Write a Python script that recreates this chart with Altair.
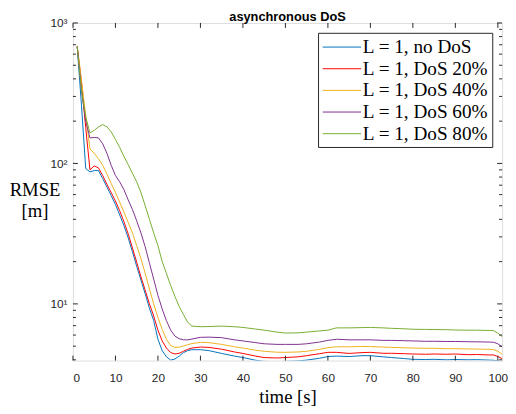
import altair as alt
import pandas as pd

# ---- data ----
time_s = [1, 2, 3, 4, 5, 6, 7, 8, 9, 10, 11, 12, 13, 14, 15, 16, 17, 18, 19, 20,
          21, 22, 23, 24, 25, 26, 27, 28, 30, 32, 35, 38, 40, 43, 45, 48, 50, 53,
          55, 58, 60, 62, 65, 68, 70, 73, 75, 78, 80, 83, 85, 88, 90, 93, 95, 98,
          99, 100, 101]

no_dos = [680, 260, 92, 87, 89, 89, 78, 68, 59, 51, 43, 36, 29.5, 23.5, 18.5, 14.8,
          11.8, 9.3, 7.6, 5.6, 4.65, 4.2, 3.98, 4.05, 4.25, 4.5, 4.65, 4.72, 4.72,
          4.65, 4.44, 4.25, 4.15, 3.97, 3.9, 3.88, 3.9, 3.93, 3.98, 4.1, 4.22, 4.25,
          4.22, 4.28, 4.28, 4.2, 4.15, 4.08, 4.03, 4.02, 4.03, 4.0, 4.02, 4.0, 4.01,
          3.98, 3.97, 3.92, 3.85]

dos20 = [680, 380, 180, 90, 96, 93, 82, 71, 62, 54, 46, 38.5, 31.5, 25, 19.8, 15.6,
         12.5, 10, 8.2, 6.5, 5.45, 4.85, 4.5, 4.4, 4.45, 4.6, 4.75, 4.85, 4.93, 4.9,
         4.76, 4.55, 4.44, 4.25, 4.15, 4.12, 4.15, 4.2, 4.28, 4.42, 4.52, 4.52, 4.44,
         4.5, 4.52, 4.45, 4.45, 4.42, 4.4, 4.38, 4.4, 4.38, 4.4, 4.35, 4.36, 4.33,
         4.33, 4.22, 4.08]

dos40 = [680, 390, 220, 127, 118, 108, 97, 84, 72, 62, 53, 45, 38, 32, 26, 21, 16.5,
         12.8, 10, 8, 6.6, 5.6, 5.05, 4.9, 4.92, 5.02, 5.12, 5.22, 5.32, 5.3, 5.15,
         4.95, 4.85, 4.68, 4.6, 4.53, 4.52, 4.55, 4.6, 4.75, 4.88, 4.95, 4.95, 4.98,
         4.97, 4.93, 4.9, 4.87, 4.85, 4.83, 4.83, 4.8, 4.8, 4.78, 4.77, 4.75, 4.73,
         4.6, 4.38]

dos60 = [680, 330, 200, 152, 153, 152, 138, 118, 97, 82, 74, 65, 55, 47, 39, 32, 25.5,
         19.5, 15, 11.5, 9.2, 7.6, 6.5, 5.9, 5.65, 5.55, 5.55, 5.62, 5.78, 5.8, 5.75,
         5.55, 5.45, 5.3, 5.2, 5.15, 5.15, 5.15, 5.2, 5.35, 5.5, 5.6, 5.55, 5.55, 5.55,
         5.5, 5.5, 5.47, 5.45, 5.42, 5.42, 5.4, 5.4, 5.38, 5.37, 5.35, 5.33, 5.2, 4.95]

dos80 = [680, 330, 215, 165, 172, 182, 189, 182, 168, 148, 130, 112, 98, 85, 74, 62,
         50, 40, 32, 26, 20, 16.5, 13.5, 11.3, 9.6, 8.4, 7.4, 6.95, 6.88, 6.9, 6.95,
         6.88, 6.8, 6.62, 6.5, 6.3, 6.2, 6.22, 6.3, 6.42, 6.5, 6.75, 6.75, 6.78, 6.8,
         6.75, 6.7, 6.65, 6.6, 6.58, 6.57, 6.55, 6.52, 6.5, 6.5, 6.47, 6.45, 6.2, 5.85]

series_names = ["L = 1, no DoS", "L = 1, DoS 20%", "L = 1, DoS 40%",
                "L = 1, DoS 60%", "L = 1, DoS 80%"]
series_colors = ["#0072BD", "#FF0000", "#EDB120", "#7E2F8E", "#77AC30"]

chart_title = ["asynchronous DoS"]

x_major = [0, 10, 20, 30, 40, 50, 60, 70, 80, 90, 100]
y_major = [10, 100, 1000]
y_minor = [4, 5, 6, 7, 8, 9, 20, 30, 40, 50, 60, 70, 80, 90,
           200, 300, 400, 500, 600, 700, 800, 900]

rows = []
for name, ys in zip(series_names, [no_dos, dos20, dos40, dos60, dos80]):
    for t, v in zip(time_s, ys):
        rows.append({"time": t, "rmse": v, "series": name})
df = pd.DataFrame(rows)

W, H = 436, 343
AX = "#262626"
xscale = alt.Scale(domain=[0, 101], nice=False, zero=False)
yscale = alt.Scale(type="log", domain=[3.95, 1000], nice=False)

lines = alt.Chart(df).mark_line(strokeWidth=1, clip=True).encode(
    x=alt.X("time:Q", scale=xscale,
            axis=alt.Axis(values=x_major, title="time [s]", grid=False, ticks=False,
                          tickSize=0, domain=False, labelFont="Liberation Sans",
                          labelFontSize=12, labelColor=AX, labelPadding=12,
                          titleFont="Liberation Serif", titleFontSize=19,
                          titleFontWeight="normal", titleColor="black",
                          titleBaseline="alphabetic", titleY=43, titleX=W / 2)),
    y=alt.Y("rmse:Q", scale=yscale,
            axis=alt.Axis(values=y_major, grid=False, ticks=False, tickSize=0,
                          domain=False,
                          labelExpr="datum.value == 10 ? '10\u00b9' : datum.value == 100 ? '10\u00b2' : '10\u00b3'",
                          labelFont="Liberation Sans", labelFontSize=12,
                          labelColor=AX, labelPadding=6,
                          title=["RMSE", "[m]"], titleAngle=0, titleAlign="center",
                          titleBaseline="alphabetic", titleX=-39, titleY=175,
                          titleLineHeight=22, titleFont="Liberation Serif",
                          titleFontSize=19, titleFontWeight="normal",
                          titleColor="black")),
    color=alt.Color("series:N",
                    scale=alt.Scale(domain=series_names, range=series_colors),
                    legend=alt.Legend(title=None, orient="none", legendX=249,
                                      legendY=10, symbolType="M-1,0L3,0",
                                      symbolSize=380, symbolStrokeWidth=1,
                                      labelFont="Liberation Serif",
                                      labelFontSize=19.5, labelColor="black",
                                      labelOffset=20.5, strokeColor=AX,
                                      fillColor="white", padding=4,
                                      rowPadding=2, labelLimit=300)),
)

ydf_major = pd.DataFrame({"rmse": y_major})
ydf_minor = pd.DataFrame({"rmse": y_minor})
xdf = pd.DataFrame({"time": x_major})

def yticks(data, length):
    base = alt.Chart(data).mark_rule(color=AX, strokeWidth=1)
    left = base.encode(y=alt.Y("rmse:Q", scale=yscale),
                       x=alt.value(0), x2=alt.value(length))
    right = base.encode(y=alt.Y("rmse:Q", scale=yscale),
                        x=alt.value(W - length), x2=alt.value(W))
    return [left, right]

xbase = alt.Chart(xdf).mark_rule(color=AX, strokeWidth=1)
xbottom = xbase.encode(x=alt.X("time:Q", scale=xscale),
                       y=alt.value(H), y2=alt.value(H - 5))
xtop = xbase.encode(x=alt.X("time:Q", scale=xscale),
                    y=alt.value(0), y2=alt.value(5))

title_text = alt.Chart(pd.DataFrame({"label": chart_title})).mark_text(
    font="Liberation Sans", fontSize=13, fontWeight="bold", color="black",
    align="center", baseline="alphabetic"
).encode(x=alt.value(W / 2), y=alt.value(-2.5), text="label:N")

chart = alt.layer(
    lines, *yticks(ydf_minor, 3), *yticks(ydf_major, 5), xbottom, xtop, title_text
).properties(
    width=W, height=H,
    autosize=alt.AutoSizeParams(type="none"),
    padding={"left": 66, "top": 12, "right": 6, "bottom": 46},
).configure_view(stroke=AX, strokeWidth=1).configure(background="white")

chart.save("out.html", embed_options={"renderer": "svg", "actions": False})
